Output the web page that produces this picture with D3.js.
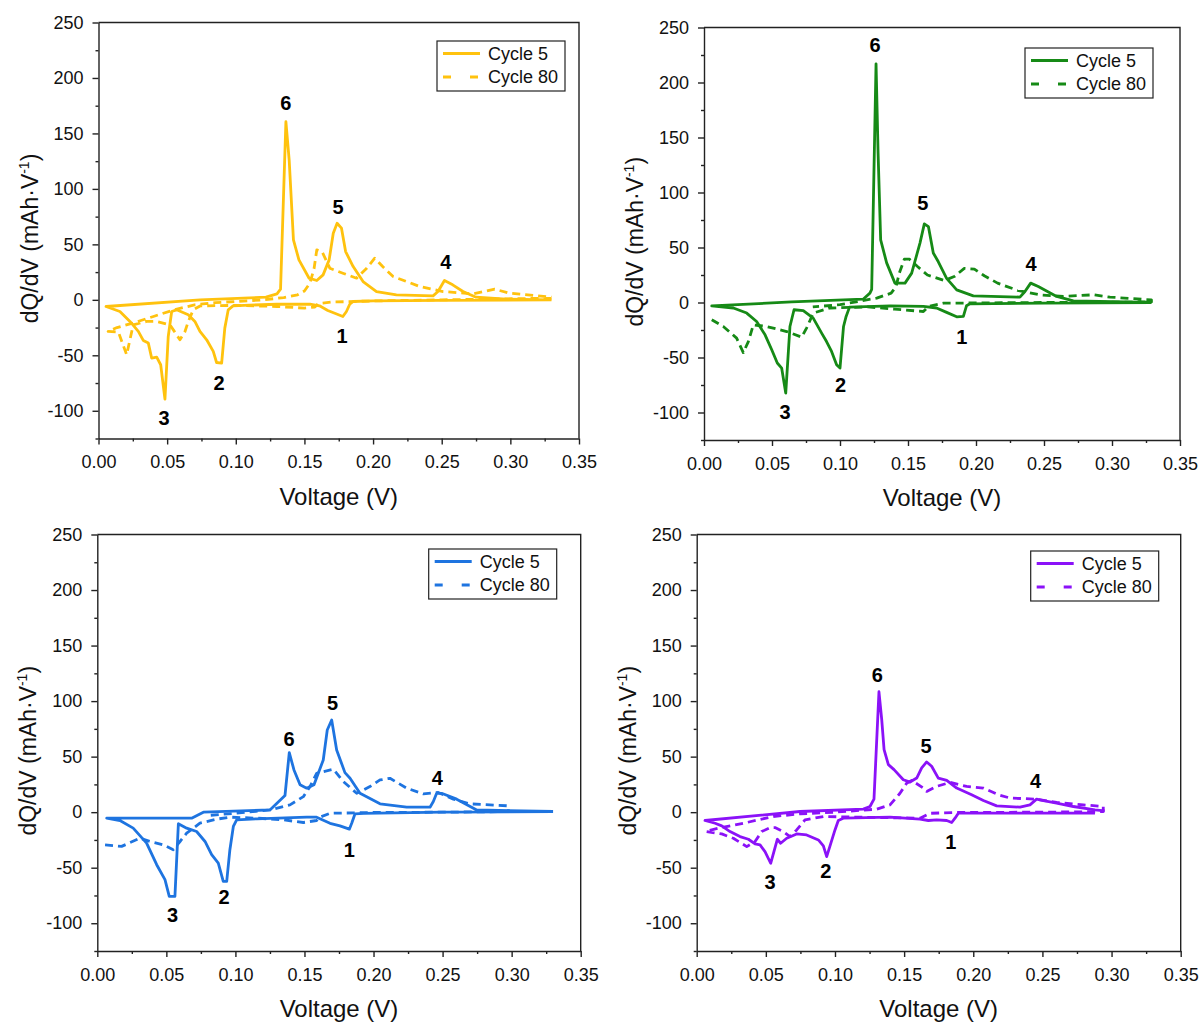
<!DOCTYPE html>
<html>
<head>
<meta charset="utf-8">
<script src="https://cdn.jsdelivr.net/npm/d3@7"></script>
<style>
  body { margin: 0; background: #fff; }
  svg { font-family: Arial, "Liberation Sans", sans-serif; }
  .axis path, .axis line { stroke: #222; stroke-width: 1.4; }
  .axis text { font-size: 18px; fill: #111; }
</style>
</head>
<body>
<svg width="1203" height="1025"></svg>
<script>
// dQ/dV curves, 4 electrodes, cycle 5 vs cycle 80

var voltageTicks = [0, 0.05, 0.10, 0.15, 0.20, 0.25, 0.30, 0.35];
var voltageMinor = [0.025, 0.075, 0.125, 0.175, 0.225, 0.275, 0.325];
var dqTicks = [-100, -50, 0, 50, 100, 150, 200, 250];
var dqMinor = [-125, -75, -25, 25, 75, 125, 175, 225];
var seriesNames = ['Cycle 5', 'Cycle 80'];
var peakNames = ['1', '2', '3', '4', '5', '6'];

// [voltage, dQ/dV] — discharge branch then charge branch
var p1Cycle5 = [[0.330,0],[0.25,-0.5],[0.20,-1],[0.1855,-1.5],[0.183,-4],[0.1806,-10.5],[0.178,-15],[0.173,-12.6],[0.167,-9.6],[0.161,-5.4],[0.154,-3.9],[0.13,-4],[0.11,-4.8],[0.098,-5.4],[0.0945,-9],[0.092,-25.5],[0.0897,-57],[0.086,-56.5],[0.0836,-46.5],[0.0788,-36],[0.0739,-28.5],[0.0702,-19.5],[0.0654,-13.5],[0.0569,-9],[0.0533,-10.5],[0.0508,-33],[0.0484,-89.5],[0.0453,-58.5],[0.0424,-51.6],[0.0387,-52.5],[0.0363,-39],[0.0326,-36.6],[0.029,-28.5],[0.0229,-19.5],[0.0156,-10.5],[0.0055,-6],
  [0.074,0],[0.122,2.4],[0.13,5.4],[0.1326,9.6],[0.1365,160.6],[0.1389,126],[0.142,54],[0.146,36],[0.1534,19.5],[0.159,17.4],[0.1636,22.5],[0.168,36],[0.171,60],[0.1738,69],[0.177,64.6],[0.180,43.5],[0.1855,30],[0.1927,16.5],[0.2025,7.5],[0.217,4.5],[0.2437,3.6],[0.2473,7.5],[0.252,17.4],[0.258,13.5],[0.2655,7.5],[0.275,2.4],[0.297,0.6],[0.330,0]];
var p1Cycle80 = [[0.33,1.5],[0.25,0],[0.20,-1],[0.17,-2],[0.160,-3.5],[0.1576,-6.5],[0.15,-7.5],[0.13,-6],[0.10,-5],[0.074,-5.5],[0.069,-9],[0.0654,-19.5],[0.063,-28.5],[0.0593,-36],[0.055,-28],[0.052,-22.5],[0.0424,-19.5],[0.035,-19.5],[0.0253,-22.5],[0.0205,-49.5],[0.0145,-29],[0.007,-28.5],
  [0.0135,-25],[0.025,-21],[0.04,-15],[0.055,-9],[0.07,-4.5],[0.085,-2.5],[0.10,-1.5],[0.12,0],[0.135,2],[0.145,4.5],[0.150,8],[0.154,15],[0.157,28],[0.159,45],[0.163,43],[0.1685,28.5],[0.178,24],[0.188,19.5],[0.195,28],[0.2012,37.5],[0.207,30],[0.2146,21],[0.234,12],[0.251,7.5],[0.273,5.4],[0.2886,9.6],[0.2995,6],[0.33,2.4]];

var p2Cycle5 = [[0.329,0],[0.25,-0.5],[0.1956,-1.2],[0.193,-3],[0.1907,-12.7],[0.1858,-13],[0.1784,-9],[0.171,-5],[0.1613,-3.6],[0.137,-3],[0.107,-4.2],[0.1045,-12.7],[0.1026,-21.8],[0.100,-59.6],[0.0975,-56.6],[0.0938,-44.5],[0.0901,-35.5],[0.0865,-27.8],[0.0803,-14.2],[0.073,-7.3],[0.0662,-6.6],[0.0632,-21.8],[0.0601,-82.4],[0.0571,-59.6],[0.0539,-55],[0.0498,-43],[0.0449,-29.4],[0.0387,-17.3],[0.0314,-9.6],[0.0216,-5],[0.0057,-3],
  [0.0645,0.5],[0.117,3],[0.122,8.5],[0.1233,12],[0.1265,217],[0.128,136],[0.1299,57],[0.1343,36],[0.1404,17.6],[0.1478,17.6],[0.1527,26.7],[0.1588,54],[0.162,71.5],[0.165,69],[0.1686,45],[0.1723,37],[0.1784,22],[0.1858,11.5],[0.198,6],[0.2323,4.9],[0.236,10],[0.2402,17.6],[0.2458,14.5],[0.2593,5.5],[0.2716,1.5],[0.329,0]];
var p2Cycle80 = [[0.0057,-15.7],[0.0142,-21.8],[0.024,-32.4],[0.0289,-45.5],[0.0326,-35.5],[0.0363,-20.3],[0.046,-21.8],[0.0608,-26.4],[0.0718,-31.5],[0.0755,-23],[0.0804,-9.6],[0.0926,-5],[0.1205,-4],[0.14,-6],[0.1613,-8.2],[0.165,-3.6],[0.176,-0.6],[0.25,0],[0.329,0.5],
  [0.329,2.4],[0.2985,4.9],[0.2863,7],[0.2642,5.5],[0.2467,7],[0.2306,11],[0.2159,17.6],[0.2061,24.3],[0.1988,30.4],[0.1914,31],[0.184,23.6],[0.1766,20],[0.1643,25],[0.157,32.7],[0.151,39.4],[0.1473,39.4],[0.1436,26.7],[0.1412,14.5],[0.1376,8.5],[0.127,4],[0.10,-2],[0.08,-4]];

var p3Cycle5 = [[0.330,0.6],[0.25,0],[0.1926,-1],[0.1866,-1.5],[0.1842,-10],[0.1825,-15.3],[0.1757,-12.3],[0.1685,-10],[0.1588,-4.5],[0.1516,-4.5],[0.1154,-6],[0.1009,-6.9],[0.0985,-12.9],[0.096,-33.8],[0.0937,-62.3],[0.0912,-62.3],[0.0876,-45.8],[0.0828,-38.3],[0.078,-26.4],[0.0719,-17.4],[0.0647,-14.4],[0.0587,-10.5],[0.0562,-75.8],[0.0521,-75.8],[0.049,-60.8],[0.043,-47.3],[0.0357,-27.9],[0.026,-14.4],[0.0164,-7.5],[0.0068,-5.4],
  [0.0683,-5.4],[0.0768,0],[0.125,2],[0.1359,15],[0.139,53.6],[0.1424,38],[0.1468,24.6],[0.1516,21.6],[0.1569,24.6],[0.1636,47],[0.1665,74],[0.1697,83],[0.1733,56],[0.1793,35.6],[0.183,30.5],[0.1902,17],[0.2047,7.5],[0.224,4.5],[0.2409,4.5],[0.2433,9.6],[0.2457,17],[0.2493,17],[0.2602,11.7],[0.2747,2],[0.330,0.6]];
var p3Cycle80 = [[0.0056,-29.4],[0.0176,-30.8],[0.0309,-23.4],[0.0381,-26.4],[0.0478,-29.4],[0.055,-33.8],[0.0599,-26.4],[0.0647,-18.9],[0.0743,-9.9],[0.0864,-6.3],[0.096,-4.5],[0.1154,-5.4],[0.1347,-6.9],[0.1492,-9.3],[0.1588,-7.5],[0.1612,-4.5],[0.1685,-1],[0.20,-0.3],[0.25,0],[0.2976,0.5],
  [0.2976,5.7],[0.2843,6.6],[0.2698,7.5],[0.2578,11.7],[0.2469,17.7],[0.236,16.5],[0.224,21.6],[0.2119,30.5],[0.2047,29],[0.1974,23],[0.1878,17],[0.1781,27.6],[0.1709,38.6],[0.1636,36.5],[0.1588,35],[0.154,23],[0.1492,14],[0.1395,6.6],[0.125,2],[0.10,-1],[0.08,-3]];

var p4Cycle5 = [[0.288,-0.9],[0.1892,-0.9],[0.1868,-5.4],[0.1844,-9.3],[0.1808,-7.5],[0.1735,-6.9],[0.1675,-7.5],[0.1615,-6.3],[0.1398,-4.5],[0.106,-5.4],[0.1024,-7.5],[0.100,-16],[0.094,-40],[0.0916,-30.4],[0.088,-25],[0.0795,-20.5],[0.0723,-19.6],[0.0651,-23.5],[0.0607,-28],[0.0583,-24.4],[0.0535,-46],[0.0494,-35.5],[0.0458,-29.5],[0.0422,-28.6],[0.0374,-24.4],[0.0313,-22],[0.0241,-17.5],[0.0181,-12.3],[0.0133,-10],[0.006,-7.5],
  [0.0747,0.6],[0.1205,2.7],[0.1253,5.1],[0.1282,11.7],[0.1318,108.4],[0.1338,83.4],[0.1355,56.3],[0.1386,42.8],[0.1427,38.3],[0.1494,29.2],[0.1543,27.1],[0.1591,30.7],[0.1627,39.8],[0.1663,45.2],[0.1699,41.3],[0.1747,30.7],[0.1808,28.6],[0.188,21.7],[0.1988,15.7],[0.2073,10.5],[0.2169,5.7],[0.2338,4.5],[0.241,6.6],[0.2458,11.7],[0.2507,10.5],[0.2603,8.1],[0.2724,5.1],[0.288,2.1],[0.295,1.2]];
var p4Cycle80 = [[0.0072,-17.5],[0.0181,-19.6],[0.0265,-23.5],[0.0362,-31],[0.0422,-26.5],[0.047,-17.5],[0.053,-13.9],[0.0566,-13.9],[0.0627,-17.5],[0.0675,-22],[0.0723,-16],[0.0783,-7],[0.0916,-3.9],[0.1157,-4.5],[0.1615,-5.4],[0.1687,-1],[0.188,-0.3],[0.25,0],[0.294,0.5],
  [0.294,5.1],[0.2796,6.6],[0.2603,8.7],[0.2458,11.7],[0.2266,12.7],[0.2181,15.7],[0.2073,21.7],[0.1952,23.2],[0.1832,26.8],[0.1735,23.2],[0.1663,18.7],[0.1639,21.7],[0.1555,28.6],[0.1518,26],[0.147,17],[0.1398,6.6],[0.1302,2.7],[0.10,0],[0.075,-1.5],[0.0554,-3.9],[0.0337,-10],[0.0157,-14.5],[0.0072,-17]];

// peak label anchors [voltage, dQ/dV], in the order of peakNames
var p1Peaks = [[0.1775,-32.4],[0.0879,-75],[0.0477,-106.6],[0.2529,34.5],[0.1745,83.5],[0.1365,177.7]];
var p2Peaks = [[0.1895,-30.9],[0.1005,-74.8],[0.0596,-99.1],[0.2404,34.8],[0.1608,90.3],[0.1257,234]];
var p3Peaks = [[0.1825,-33.8],[0.0917,-76.3],[0.0545,-92.8],[0.2462,31.1],[0.1704,98.5],[0.1388,65.9]];
var p4Peaks = [[0.1837,-27.1],[0.0933,-52.7],[0.053,-62.7],[0.2451,28.6],[0.1658,59.9],[0.1306,124.1]];

var panels = [
  { l: 98.5, t: 22.5, r: 579, b: 438.5, color: '#FFC20E', c5: p1Cycle5, c80: p1Cycle80, peaks: p1Peaks, leg: { dx: 142, dy: 18.5 } },
  { l: 704, t: 27.5, r: 1180, b: 440, color: '#168A16', c5: p2Cycle5, c80: p2Cycle80, peaks: p2Peaks, leg: { dx: 155, dy: 20.5 } },
  { l: 97.3, t: 534.5, r: 580.7, b: 951, color: '#1E74E0', c5: p3Cycle5, c80: p3Cycle80, peaks: p3Peaks, leg: { dx: 152, dy: 14.5 } },
  { l: 696.7, t: 534.5, r: 1180.7, b: 951, color: '#8B12F8', c5: p4Cycle5, c80: p4Cycle80, peaks: p4Peaks, leg: { dx: 150, dy: 16.5 } }
];

var svg = d3.select('svg');

panels.forEach(function(p) {
    var w = p.r - p.l, h = p.b - p.t;
    var x = d3.scaleLinear().domain([0, 0.35]).range([0, w]);
    var y = d3.scaleLinear().domain([-125, 250]).range([h, 0]);

    var g = svg.append('g').attr('transform', 'translate(' + p.l + ',' + p.t + ')');

    // frame top / right
    g.append('path')
        .attr('d', 'M0,0H' + w + 'V' + h)
        .attr('fill', 'none')
        .attr('stroke', '#222')
        .attr('stroke-width', 1.4);

    // minor ticks
    g.append('g').attr('class', 'axis')
        .attr('transform', 'translate(0,' + h + ')')
        .call(d3.axisBottom(x).tickValues(voltageMinor).tickSize(3).tickFormat(''))
        .select('.domain').remove();
    g.append('g').attr('class', 'axis')
        .call(d3.axisLeft(y).tickValues(dqMinor).tickSize(3).tickFormat(''))
        .select('.domain').remove();

    // major axes
    g.append('g').attr('class', 'axis')
        .attr('transform', 'translate(0,' + h + ')')
        .call(d3.axisBottom(x).tickValues(voltageTicks).tickSize(6).tickSizeOuter(0)
            .tickPadding(11).tickFormat(function(d) { return d.toFixed(2); }));
    g.append('g').attr('class', 'axis')
        .call(d3.axisLeft(y).tickValues(dqTicks).tickSize(6).tickSizeOuter(0)
            .tickPadding(9).tickFormat(function(d) { return String(d); }));

    // axis titles
    g.append('text')
        .attr('x', w / 2).attr('y', h + 66)
        .attr('text-anchor', 'middle')
        .style('font-size', '24px').style('fill', '#111')
        .text('Voltage (V)');

    var yt = g.append('text')
        .attr('transform', 'translate(' + (-61) + ',' + (h / 2 + 8) + ') rotate(-90)')
        .attr('text-anchor', 'middle')
        .style('font-size', '23px').style('fill', '#111');
    yt.append('tspan').text('dQ/dV (mAh\u00B7V');
    yt.append('tspan').attr('dy', -9).style('font-size', '14px').text('-1');
    yt.append('tspan').attr('dy', 9).text(')');

    // curves
    var line = d3.line().x(function(d) { return x(d[0]); }).y(function(d) { return y(d[1]); });

    g.append('path').datum(p.c80)
        .attr('d', line)
        .attr('fill', 'none')
        .attr('stroke', p.color)
        .attr('stroke-width', 2.8)
        .attr('stroke-dasharray', '8,5')
        .attr('stroke-linejoin', 'round');

    g.append('path').datum(p.c5)
        .attr('d', line)
        .attr('fill', 'none')
        .attr('stroke', p.color)
        .attr('stroke-width', 2.8)
        .attr('stroke-linejoin', 'round');

    // peak numbers
    g.selectAll('.peak')
        .data(p.peaks)
        .enter().append('text')
        .attr('class', 'peak')
        .attr('x', function(d) { return x(d[0]); })
        .attr('y', function(d) { return y(d[1]); })
        .attr('dy', '0.36em')
        .attr('text-anchor', 'middle')
        .style('font-size', '20px').style('font-weight', 'bold').style('fill', '#000')
        .text(function(d, i) { return peakNames[i]; });

    // legend
    var lg = g.append('g').attr('transform', 'translate(' + (w - p.leg.dx) + ',' + p.leg.dy + ')');
    lg.append('rect')
        .attr('width', 128).attr('height', 50)
        .attr('fill', '#fff')
        .attr('stroke', '#222').attr('stroke-width', 1.2);
    seriesNames.forEach(function(name, i) {
        var ly = 12.5 + i * 23.5;
        lg.append('line')
            .attr('x1', 6).attr('x2', 43).attr('y1', ly).attr('y2', ly)
            .attr('stroke', p.color).attr('stroke-width', 2.8)
            .attr('stroke-dasharray', i === 1 ? '8,19' : null);
        lg.append('text')
            .attr('x', 51).attr('y', ly).attr('dy', '0.35em')
            .style('font-size', '18px').style('fill', '#111')
            .text(name);
    });
});
</script>
</body>
</html>
